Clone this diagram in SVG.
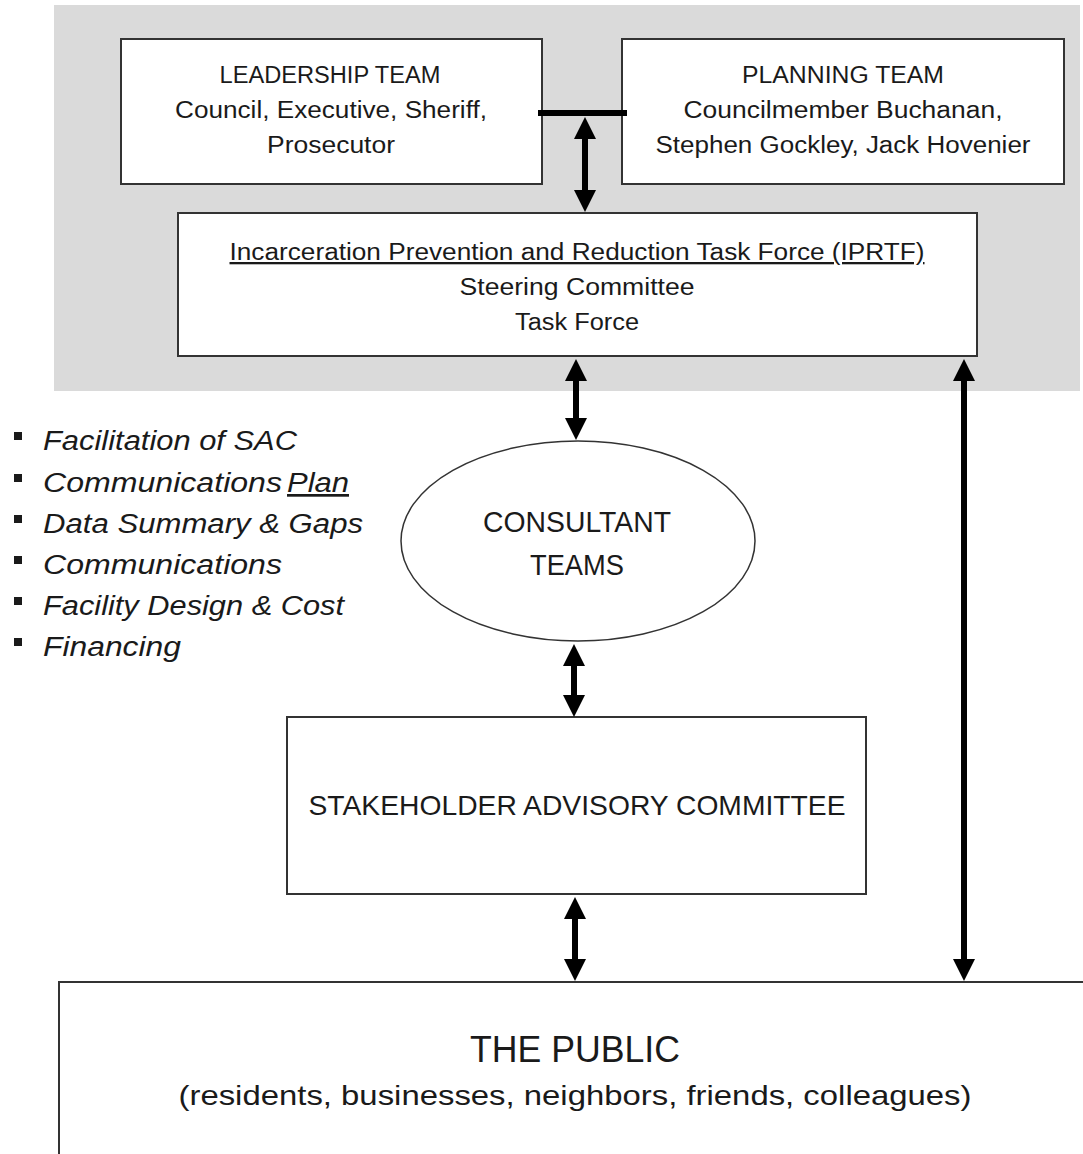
<svg xmlns="http://www.w3.org/2000/svg" width="1083" height="1154" viewBox="0 0 1083 1154">
<style>
.box{fill:#fff;stroke:#333;stroke-width:2}
.t{font-family:"Liberation Sans",Arial,sans-serif;fill:#1a1a1a;text-anchor:middle}
.b{font-family:"Liberation Sans",Arial,sans-serif;fill:#1a1a1a;font-style:italic;font-size:27px}
.c{stroke:#000;stroke-width:6;fill:none;marker-start:url(#ah);marker-end:url(#ah)}
</style>
<defs>
<marker id="ah" viewBox="0 0 22 22" markerWidth="22" markerHeight="22" markerUnits="userSpaceOnUse" refX="2" refY="11" orient="auto-start-reverse">
<path d="M0,0 L22,11 L0,22 z" fill="#000"/>
</marker>
</defs>
<rect width="1083" height="1154" fill="#fff"/>
<rect x="54" y="5" width="1026" height="386" fill="#dadada"/>

<g id="leadership">
<rect class="box" x="121" y="39" width="421" height="145"/>
<text class="t" font-size="23" x="330" y="83" textLength="221" lengthAdjust="spacingAndGlyphs">LEADERSHIP TEAM</text>
<text class="t" font-size="23" x="331" y="118" textLength="312" lengthAdjust="spacingAndGlyphs">Council, Executive, Sheriff,</text>
<text class="t" font-size="23" x="331" y="153" textLength="128" lengthAdjust="spacingAndGlyphs">Prosecutor</text>
</g>

<g id="planning">
<rect class="box" x="622" y="39" width="442" height="145"/>
<text class="t" font-size="23" x="843" y="83" textLength="202" lengthAdjust="spacingAndGlyphs">PLANNING TEAM</text>
<text class="t" font-size="23" x="843" y="118" textLength="319" lengthAdjust="spacingAndGlyphs">Councilmember  Buchanan,</text>
<text class="t" font-size="23" x="843" y="153" textLength="375" lengthAdjust="spacingAndGlyphs">Stephen  Gockley, Jack Hovenier</text>
</g>

<g id="iprtf">
<rect class="box" x="178" y="213" width="799" height="143"/>
<text class="t" font-size="23" x="577" y="260" textLength="695" lengthAdjust="spacingAndGlyphs" text-decoration="underline">Incarceration Prevention and Reduction Task Force (IPRTF)</text>
<text class="t" font-size="23" x="577" y="295" textLength="235" lengthAdjust="spacingAndGlyphs">Steering Committee</text>
<text class="t" font-size="23" x="577" y="330" textLength="124" lengthAdjust="spacingAndGlyphs">Task Force</text>
</g>

<g id="consultants">
<ellipse cx="578" cy="541" rx="177" ry="100" fill="#fff" stroke="#333" stroke-width="1.5"/>
<text class="t" font-size="29" x="577" y="532" textLength="188" lengthAdjust="spacingAndGlyphs">CONSULTANT</text>
<text class="t" font-size="29" x="577" y="575" textLength="94" lengthAdjust="spacingAndGlyphs">TEAMS</text>
</g>

<g id="tasks">
<rect x="14" y="432" width="8" height="8" fill="#1a1a1a"/>
<text class="b" x="43" y="450" textLength="254" lengthAdjust="spacingAndGlyphs">Facilitation of SAC</text>
<rect x="14" y="474" width="8" height="8" fill="#1a1a1a"/>
<text class="b" x="43" y="492" textLength="239" lengthAdjust="spacingAndGlyphs">Communications</text>
<text class="b" x="287" y="492" textLength="62" lengthAdjust="spacingAndGlyphs" text-decoration="underline">Plan</text>
<rect x="14" y="515" width="8" height="8" fill="#1a1a1a"/>
<text class="b" x="43" y="533" textLength="320" lengthAdjust="spacingAndGlyphs">Data Summary &amp; Gaps</text>
<rect x="14" y="556" width="8" height="8" fill="#1a1a1a"/>
<text class="b" x="43" y="574" textLength="239" lengthAdjust="spacingAndGlyphs">Communications</text>
<rect x="14" y="597" width="8" height="8" fill="#1a1a1a"/>
<text class="b" x="43" y="615" textLength="301" lengthAdjust="spacingAndGlyphs">Facility Design &amp; Cost</text>
<rect x="14" y="638" width="8" height="8" fill="#1a1a1a"/>
<text class="b" x="43" y="656" textLength="138" lengthAdjust="spacingAndGlyphs">Financing</text>
</g>

<g id="sac">
<rect class="box" x="287" y="717" width="579" height="177"/>
<text class="t" font-size="28" x="577" y="815" textLength="537" lengthAdjust="spacingAndGlyphs">STAKEHOLDER ADVISORY COMMITTEE</text>
</g>

<g id="public">
<rect class="box" x="59" y="982" width="1040" height="200"/>
<text class="t" font-size="37" x="575" y="1062" textLength="210" lengthAdjust="spacingAndGlyphs">THE PUBLIC</text>
<text class="t" font-size="28" x="575" y="1105" textLength="793" lengthAdjust="spacingAndGlyphs">(residents, businesses, neighbors, friends, colleagues)</text>
</g>

<g id="connectors">
<line x1="538" y1="113" x2="627" y2="113" stroke="#000" stroke-width="6"/>
<line class="c" x1="585" y1="137" x2="585" y2="192"/>
<line class="c" x1="576" y1="379" x2="576" y2="420"/>
<line class="c" x1="574" y1="664" x2="574" y2="697"/>
<line class="c" x1="575" y1="917" x2="575" y2="961"/>
<line class="c" x1="964" y1="379" x2="964" y2="961"/>
</g>
</svg>
